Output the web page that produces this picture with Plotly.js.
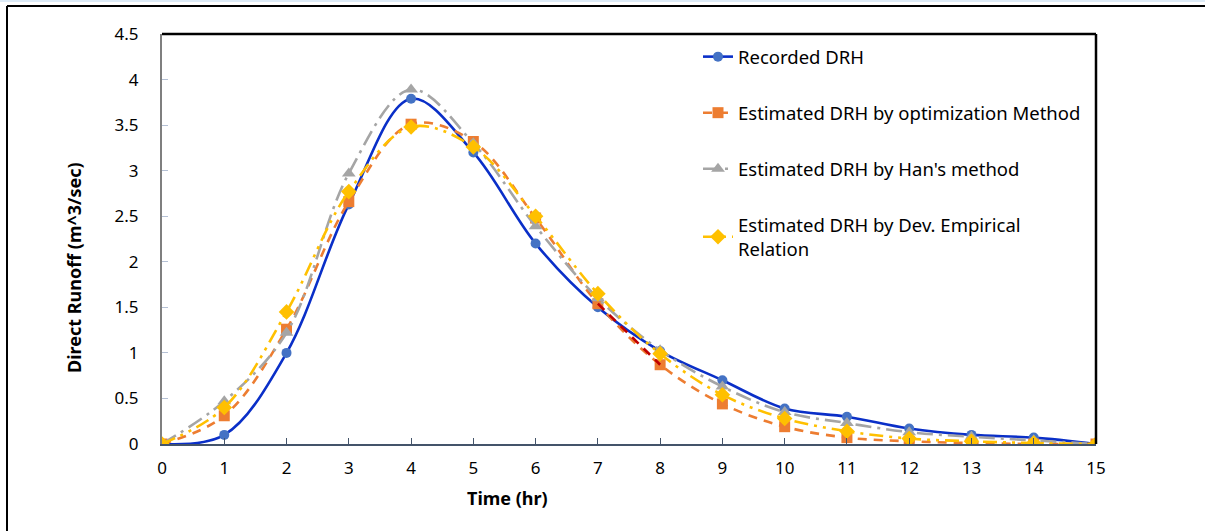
<!DOCTYPE html>
<html>
<head>
<meta charset="utf-8">
<script src="https://cdn.plot.ly/plotly-3.0.1.min.js"></script>
<style>html,body{margin:0;padding:0;background:#fff;}#chart{width:1205px;height:531px;}</style>
</head>
<body>
<div id="chart"></div>
<script>
const time = [0,1,2,3,4,5,6,7,8,9,10,11,12,13,14,15];
const recorded = [0,0.1,1.0,2.63,3.79,3.2,2.2,1.5,1.02,0.7,0.39,0.3,0.17,0.1,0.07,0];
const optimization = [0,0.31,1.26,2.66,3.51,3.32,2.48,1.54,0.87,0.44,0.19,0.07,0.03,0.01,0.0,0];
const hans = [0,0.47,1.22,2.97,3.89,3.3,2.39,1.6,1.03,0.63,0.35,0.23,0.13,0.08,0.04,0];
const devEmpirical = [0,0.4,1.45,2.77,3.48,3.26,2.5,1.65,0.99,0.54,0.28,0.14,0.06,0.03,0.01,0];
const seriesNames = ["Recorded DRH","Estimated DRH by optimization Method","Estimated DRH by Han's method","Estimated DRH by Dev. Empirical<br>Relation"];
const xTicks = time;
const yTicks = [0,0.5,1,1.5,2,2.5,3,3.5,4,4.5];

const font = "Noto Sans, Open Sans, sans-serif";
const traces = [
  {x: time, y: recorded, name: seriesNames[0], mode: 'lines+markers', legendgroup: 'a',
   line: {color: '#0A2FC8', width: 2.6, shape: 'spline', smoothing: 1},
   marker: {symbol: 'circle', size: 10, color: '#4472C4'}},
  {x: time, y: optimization, name: seriesNames[1], mode: 'lines+markers', legendgroup: 'b',
   line: {color: '#ED7D31', width: 2.6, shape: 'spline', smoothing: 1, dash: '9px,7px'},
   marker: {symbol: 'square', size: 11, color: '#ED7D31'}},
  {x: time, y: hans, name: seriesNames[2], mode: 'lines+markers', legendgroup: 'c',
   line: {color: '#A5A5A5', width: 2.6, shape: 'spline', smoothing: 1, dash: '16px,6px,3px,6px'},
   marker: {symbol: 'triangle-up', size: 12, color: '#A5A5A5'}},
  {x: time, y: devEmpirical, name: seriesNames[3], mode: 'lines+markers', legendgroup: 'd',
   line: {color: '#FFC000', width: 2.6, shape: 'spline', smoothing: 1, dash: '14px,6px,3px,6px,3px,6px'},
   marker: {symbol: 'diamond', size: 12, color: '#FFC000'}},
  {x: time.slice(7,9), y: optimization.slice(7,9), name: 'trend', mode: 'lines', showlegend: false, hoverinfo: 'skip',
   line: {color: '#C00000', width: 2.6, dash: '9px,7px'}}
];

const px = p => (p-162)/934;
const py = q => (444-q)/410;

const layout = {
  width: 1205, height: 531,
  margin: {l: 162, r: 109, t: 34, b: 87},
  paper_bgcolor: '#fff', plot_bgcolor: '#fff',
  font: {family: font, size: 17, color: '#000'},
  showlegend: true,
  legend: {x: px(698), y: 0.99, xanchor: 'left', yanchor: 'top', bgcolor: 'rgba(0,0,0,0)',
    font: {family: font, size: 18.5, color: '#000'}, traceorder: 'grouped', tracegroupgap: 29},
  xaxis: {range: [0, 15], tickvals: xTicks, ticktext: xTicks.map(String), ticks: 'inside', ticklen: 6,
    tickcolor: '#44546A', showline: true, linecolor: '#44546A', linewidth: 2, showgrid: false, zeroline: false,
    tickfont: {family: font, size: 17}, ticklabelstandoff: 8},
  yaxis: {range: [0, 4.5], tickvals: yTicks, ticktext: yTicks.map(String), ticks: 'inside', ticklen: 6,
    tickcolor: '#B4C0D4', showline: true, linecolor: '#7F7F7F', linewidth: 2, showgrid: false, zeroline: false,
    tickfont: {family: font, size: 17}, ticklabelstandoff: 18},
  annotations: [
    {text: '<b>Time (hr)</b>', xref: 'paper', yref: 'paper', x: px(507), y: py(498), xanchor: 'center', yanchor: 'middle',
     showarrow: false, font: {family: font, size: 18}},
    {text: '<b>Direct Runoff (m^3/sec)</b>', xref: 'paper', yref: 'paper', x: px(74), y: py(268), xanchor: 'center', yanchor: 'middle',
     textangle: -90, showarrow: false, font: {family: font, size: 18}}
  ],
  shapes: [
    {type: 'line', xref: 'paper', yref: 'paper', x0: 0, x1: 1, y0: 1, y1: 1, line: {color: '#000', width: 2.5}},
    {type: 'line', xref: 'paper', yref: 'paper', x0: 1, x1: 1, y0: 0, y1: 1, line: {color: '#000', width: 2.5}},
    {type: 'line', xref: 'paper', yref: 'paper', x0: px(7), x1: px(1205), y0: py(6), y1: py(6), line: {color: '#000', width: 2}},
    {type: 'line', xref: 'paper', yref: 'paper', x0: px(7), x1: px(7), y0: py(6), y1: py(535), line: {color: '#000', width: 2}},
    {type: 'line', xref: 'paper', yref: 'paper', x0: px(0), x1: px(1205), y0: py(1), y1: py(1), line: {color: '#DDEBF7', width: 2}}
  ]
};

Plotly.newPlot('chart', traces, layout, {displayModeBar: false, staticPlot: true});
</script>
</body>
</html>
